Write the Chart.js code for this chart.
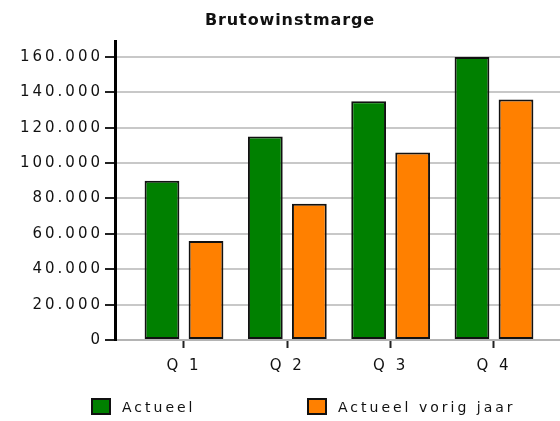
<!DOCTYPE html>
<html lang="nl">
<head>
    <meta charset="UTF-8">
    <title>Brutowinstmarge</title>
    <script src="https://cdn.jsdelivr.net/npm/chart.js"></script>
    <style>
        body {
            margin: 0;
            background: #fff;
            font-family: "DejaVu Sans", Verdana, sans-serif;
            color: #111;
        }
        .wrap {
            position: relative;
            width: 560px;
            height: 421px;
            overflow: hidden;
        }
        .wrap canvas {
            position: absolute;
            left: 0;
            top: 0;
        }
        .title {
            position: absolute;
            left: 20px;
            right: 0;
            top: 10px;
            text-align: center;
            font-weight: bold;
            font-size: 16px;
            letter-spacing: 0.9px;
        }
        .legend-item {
            position: absolute;
            top: 398px;
            display: flex;
            align-items: center;
            font-size: 14px;
            letter-spacing: 3px;
            height: 17px;
        }
        .legend-item .box {
            width: 20px;
            height: 17px;
            box-sizing: border-box;
            border: 2px solid #111;
            margin-right: 11px;
        }
    </style>
</head>
<body>
    <div class="wrap">
        <canvas id="chart" width="560" height="421"></canvas>
        <div class="title">Brutowinstmarge</div>
        <div class="legend-item" style="left: 91px;"><span class="box" style="background:#008000"></span>Actueel</div>
        <div class="legend-item" style="left: 307px;"><span class="box" style="background:#ff8000"></span>Actueel vorig jaar</div>
    </div>

    <script>
        const quarters = ['Q 1', 'Q 2', 'Q 3', 'Q 4'];
        const actueel = [90000, 115000, 135000, 160000];
        const vorigJaar = [56000, 77000, 106000, 136000];
        const yTicks = [0, 20000, 40000, 60000, 80000, 100000, 120000, 140000, 160000];

        // 160000 -> "160.000"
        function fmt(v) {
            return String(v).replace(/\B(?=(\d{3})+(?!\d))/g, '.');
        }

        // wide tracking on the axis labels, like the original
        const spacing = {
            id: 'spacing',
            beforeUpdate(chart) { chart.ctx.letterSpacing = '3px'; },
            beforeDraw(chart) { chart.ctx.letterSpacing = '3px'; }
        };

        const tickFont = { family: 'DejaVu Sans', size: 15 };

        new Chart(document.getElementById('chart'), {
            type: 'bar',
            data: {
                datasets: [{
                    label: 'Actueel',
                    data: actueel.map((v, i) => ({ x: i + 1, y: v })),
                    backgroundColor: '#008000',
                    borderColor: '#111',
                    borderWidth: 2,
                    borderSkipped: false,
                    categoryPercentage: 0.852,
                    barPercentage: 0.79
                }, {
                    label: 'Actueel vorig jaar',
                    data: vorigJaar.map((v, i) => ({ x: i + 1, y: v })),
                    backgroundColor: '#ff8000',
                    borderColor: '#111',
                    borderWidth: 2,
                    borderSkipped: false,
                    categoryPercentage: 0.852,
                    barPercentage: 0.79
                }]
            },
            options: {
                responsive: false,
                animation: false,
                layout: { padding: { top: 41, right: 0, bottom: 0, left: 0 } },
                plugins: {
                    legend: { display: false },
                    title: { display: false },
                    tooltip: { enabled: false }
                },
                scales: {
                    x: {
                        type: 'linear',
                        min: 0.3323,
                        max: 4.6388,
                        offset: false,
                        afterBuildTicks: s => { s.ticks = quarters.map((q, i) => ({ value: i + 1 })); },
                        afterFit: s => { s.height = 81; },
                        border: { color: '#b4b4b4', width: 2 },
                        grid: { offset: false, drawOnChartArea: false, tickColor: '#222', tickWidth: 2, tickLength: 8 },
                        ticks: {
                            color: '#111',
                            font: tickFont,
                            padding: 9,
                            maxRotation: 0,
                            autoSkip: false,
                            callback: v => quarters[v - 1] || ''
                        }
                    },
                    y: {
                        min: 0,
                        max: 169000,
                        afterBuildTicks: s => { s.ticks = yTicks.map(v => ({ value: v })); },
                        afterFit: s => { s.width = 115; },
                        border: { color: '#000', width: 3 },
                        grid: { color: '#c8c8c8', lineWidth: 2, tickColor: '#222', tickWidth: 2, tickLength: 10 },
                        ticks: {
                            color: '#111',
                            font: tickFont,
                            padding: 2,
                            callback: v => fmt(v)
                        }
                    }
                }
            },
            plugins: [spacing]
        });
    </script>
</body>
</html>
